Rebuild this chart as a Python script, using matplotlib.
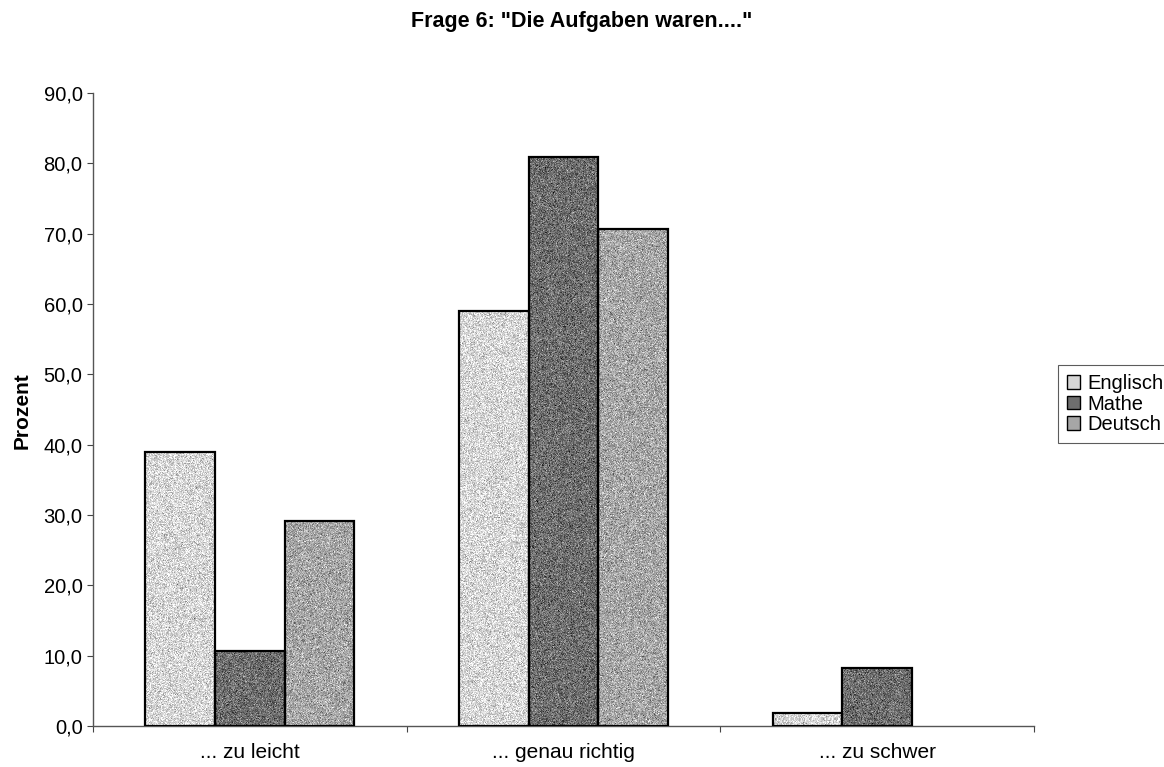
import numpy as np
import matplotlib
matplotlib.use("Agg")
import matplotlib.pyplot as plt
from matplotlib.ticker import FuncFormatter, MultipleLocator, FixedLocator
from matplotlib.patches import Patch

plt.rcParams['font.family'] = ['Liberation Sans', 'DejaVu Sans']

# Survey answers, percent of pupils per subject
categories = ['... zu leicht', '... genau richtig', '... zu schwer']
series_names = ['Englisch', 'Mathe', 'Deutsch']
englisch = [38.9, 59.0, 1.9]
mathe = [10.7, 80.9, 8.2]
deutsch = [29.2, 70.7, 0.0]
title = 'Frage 6: "Die Aufgaben waren...."'
ylabel = 'Prozent'

values = [englisch, mathe, deutsch]
gray_levels = [0.84, 0.43, 0.65]
FS = 14.5

fig = plt.figure(figsize=(11.64, 7.67), dpi=100)
ax = fig.add_axes([0.0799, 0.0535, 0.8085, 0.8252])

n_cat = len(categories)
n_ser = len(series_names)
bar_w = 1.0 / (n_ser + 1.5)
x = np.arange(n_cat)

rng = np.random.default_rng(6)
for s, (vals, g) in enumerate(zip(values, gray_levels)):
    offs = (s - (n_ser - 1) / 2) * bar_w
    for xi, v in zip(x, vals):
        if v <= 0:
            continue
        rect = ax.bar(xi + offs, v, width=bar_w, color=str(g),
                      edgecolor='none', zorder=3)[0]
        # grainy print texture inside each bar
        h_px = max(int(v * 7.03), 2)
        tex = np.clip(g + rng.normal(0, 0.11, size=(h_px, 72)), 0, 1)
        im = ax.imshow(tex, cmap='gray', vmin=0, vmax=1, aspect='auto',
                       extent=[rect.get_x(), rect.get_x() + rect.get_width(), 0, v],
                       interpolation='nearest', zorder=3.5)
        im.set_clip_path(rect)
        ax.bar(xi + offs, v, width=bar_w, fill=False,
               edgecolor='black', linewidth=1.6, zorder=4)

ax.set_xlim(-0.5, n_cat - 0.5)
ax.set_ylim(0, 90)

ax.yaxis.set_major_locator(MultipleLocator(10))
ax.yaxis.set_major_formatter(FuncFormatter(lambda v, p: f'{v:.1f}'.replace('.', ',')))
ax.tick_params(axis='y', labelsize=FS, length=4.5, width=0.8, direction='out',
               color='#444444', pad=3)

ax.set_xticks(x)
ax.set_xticklabels(categories, fontsize=15)
ax.xaxis.set_minor_locator(FixedLocator(np.arange(n_cat + 1) - 0.5))
ax.tick_params(axis='x', which='major', length=0, pad=12.5)
ax.tick_params(axis='x', which='minor', length=4.5, width=0.8, direction='out',
               color='#444444')

for side in ['top', 'right']:
    ax.spines[side].set_visible(False)
for side in ['left', 'bottom']:
    ax.spines[side].set_color('#555555')
    ax.spines[side].set_linewidth(1.0)

fig.text(22 / 1164, 1 - 411 / 767, ylabel, rotation=90, ha='center',
         va='center', fontsize=15, fontweight='bold')
fig.text(0.5, 1 - 22 / 767, title, ha='center', va='center', fontsize=15.5,
         fontweight='bold')

handles = [Patch(facecolor=str(g), edgecolor='black', linewidth=1.0)
           for g in gray_levels]
leg = fig.legend(handles, series_names, loc='upper left',
                 bbox_to_anchor=(1058 / 1164, 1 - 365 / 767),
                 fontsize=FS, frameon=True, fancybox=False,
                 edgecolor='#333333', handlelength=0.65, handleheight=0.65,
                 handletextpad=0.35, borderpad=0.45, labelspacing=0.08,
                 borderaxespad=0)
leg.get_frame().set_linewidth(0.8)

fig.savefig('out.png', dpi=100)
